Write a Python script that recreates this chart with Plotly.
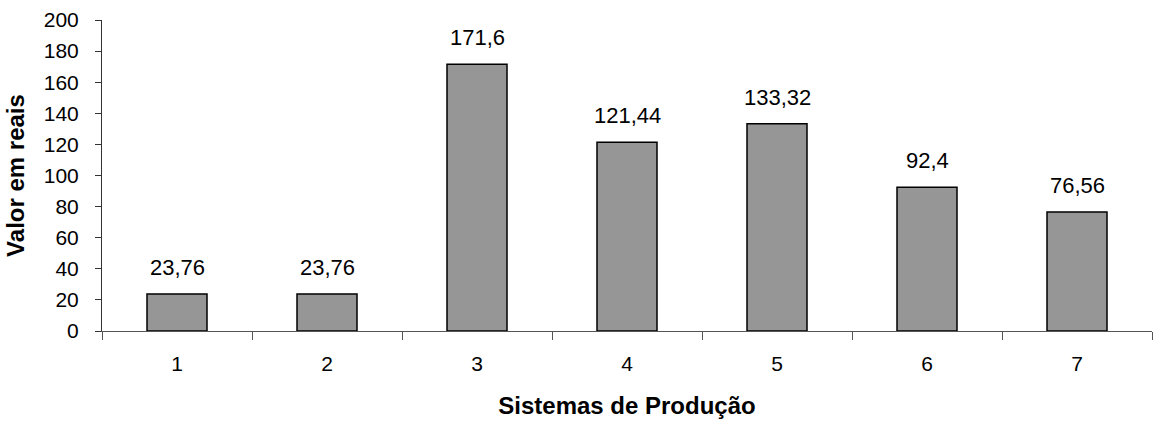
import plotly.graph_objects as go

# Sistemas de produção e valor em reais
sistemas = ["1", "2", "3", "4", "5", "6", "7"]
valores = [23.76, 23.76, 171.6, 121.44, 133.32, 92.4, 76.56]
rotulos = [f"{v:g}".replace(".", ",") for v in valores]
y_ticks = list(range(0, 201, 20))

FONT = "Liberation Sans, Arial, sans-serif"

fig = go.Figure(
    go.Bar(
        x=sistemas,
        y=valores,
        width=0.4,
        marker=dict(color="#969696", line=dict(color="#000000", width=1.5)),
        hoverinfo="skip",
    )
)

# rótulos de valor acima de cada barra (posição = índice da categoria)
for i, (v, t) in enumerate(zip(valores, rotulos)):
    fig.add_annotation(
        x=i, y=v, xref="x", yref="y", text=t, showarrow=False,
        yanchor="bottom", yshift=12,
        font=dict(family=FONT, size=22, color="#000000"),
    )

fig.update_layout(
    width=1153, height=421,
    margin=dict(l=102, r=1, t=20, b=90),
    paper_bgcolor="white", plot_bgcolor="white",
    showlegend=False,
    font=dict(family=FONT, size=21, color="#000000"),
)

fig.update_xaxes(
    type="category",
    range=[-0.5, 6.5],
    tickson="boundaries",
    ticks="outside", ticklen=8, tickcolor="#555555", tickwidth=1,
    showline=True, linecolor="#555555", linewidth=1,
    showgrid=False, zeroline=False,
    ticklabelstandoff=14,
    title=dict(text="<b>Sistemas de Produção</b>", font=dict(family=FONT, size=24), standoff=22),
)

fig.update_yaxes(
    range=[0, 200],
    tickvals=y_ticks,
    ticks="outside", ticklen=6, tickcolor="#333333", tickwidth=1,
    showline=True, linecolor="#333333", linewidth=1,
    showgrid=False, zeroline=False,
    ticklabelstandoff=12,
    title=dict(text="<b>Valor em reais</b>", font=dict(family=FONT, size=24), standoff=12),
)

fig.write_html("out.html")
